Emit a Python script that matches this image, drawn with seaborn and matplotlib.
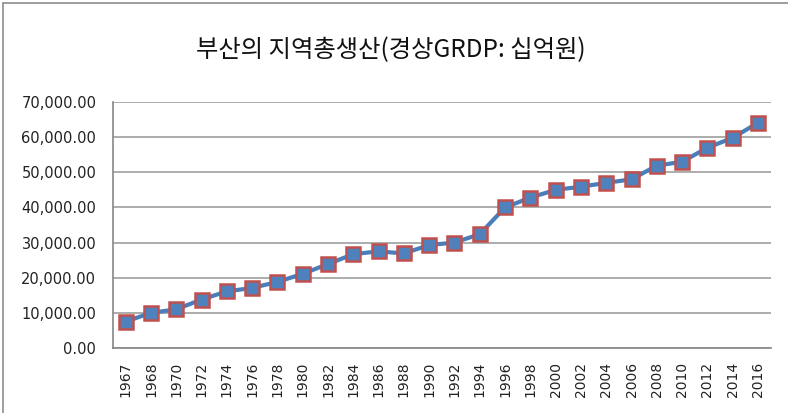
import matplotlib
matplotlib.use('Agg')
import matplotlib.pyplot as plt
import matplotlib.ticker as mticker
from matplotlib.patches import Rectangle
import seaborn as sns
import pandas as pd

# data (십억원)
years = ['1967', '1968', '1970', '1972', '1974', '1976', '1978', '1980', '1982',
         '1984', '1986', '1988', '1990', '1992', '1994', '1996', '1998', '2000',
         '2002', '2004', '2006', '2008', '2010', '2012', '2014', '2016']
grdp = [7500, 10000, 11000, 13800, 16100, 17100, 18800, 21100, 23900,
        26700, 27500, 26900, 29300, 30000, 32400, 40000, 42800, 45000,
        45900, 47000, 48000, 51900, 53000, 57000, 59800, 64100]
title = '부산의 지역총생산(경상GRDP: 십억원)'

df = pd.DataFrame({'year': years, 'grdp': grdp})
df['pos'] = range(len(df))

sns.set_style('white')
plt.rcParams['font.family'] = ['DejaVu Sans']

fig = plt.figure(figsize=(7.88, 4.13), dpi=100)
ax = fig.add_axes([0.1434, 0.1574, 0.978 - 0.1434, 0.753 - 0.1574])

sns.lineplot(data=df, x='pos', y='grdp', ax=ax, color='#4A7EBB', linewidth=3,
             marker='s', markersize=9.5, markerfacecolor='#4F81BD',
             markeredgecolor='#C0504D', markeredgewidth=1.8)

ax.set_xlim(-0.5, len(years) - 0.5)
ax.set_ylim(0, 70000)
ax.yaxis.set_major_locator(mticker.MultipleLocator(10000))
ax.yaxis.set_major_formatter(mticker.FuncFormatter(lambda v, p: f'{v:,.2f}'))
ax.grid(axis='y', color='#A6A6A6', linewidth=1.3)
ax.set_axisbelow(True)

ax.set_xticks(df['pos'])
ax.set_xticklabels(years, rotation=90)
ax.set_xticks([i - 0.5 for i in range(len(years) + 1)], minor=True)
ax.tick_params(axis='x', which='major', length=0, pad=10, labelsize=10,
               labelcolor='#222222')
ax.tick_params(axis='x', which='minor', length=5, color='#868686', width=1, direction='out')
ax.tick_params(axis='y', length=6, color='#868686', width=1, direction='out',
               labelsize=10.5, pad=6, labelcolor='#222222')

for s in ['top', 'right']:
    ax.spines[s].set_visible(False)
for s in ['left', 'bottom']:
    ax.spines[s].set_color('#868686')
    ax.spines[s].set_linewidth(1.2)

ax.set_xlabel('')
ax.set_ylabel('')

fig.text(0.4965, 0.878, title, ha='center', va='center', fontsize=17.5, color='#111111',
         family=['Noto Sans CJK KR', 'DejaVu Sans'])

# chart-area border (only left and top edges visible in the crop)
fig.patches.append(Rectangle((3 / 788, -0.05), 1.1, 1.05 - 3 / 413,
                             transform=fig.transFigure, fill=False,
                             edgecolor='#8C8C8C', linewidth=1.2))

fig.savefig('out.png', dpi=100)
